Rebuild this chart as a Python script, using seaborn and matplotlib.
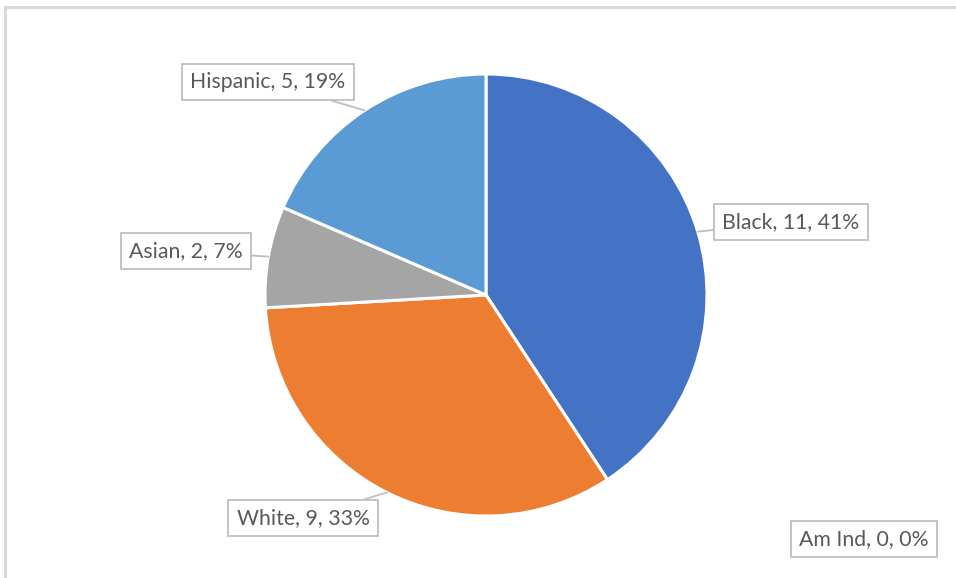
import numpy as np
import matplotlib
matplotlib.use("Agg")
import matplotlib.pyplot as plt
import seaborn as sns

sns.set_theme(style="white")
plt.rcParams["font.family"] = ["Lato", "DejaVu Sans"]

# Enrollment by race/ethnicity
categories = ["Black", "White", "Asian", "Hispanic", "Am Ind"]
counts = [11, 9, 2, 5, 0]
colors = ["#4472C4", "#ED7D31", "#A5A5A5", "#5B9BD5", "#FFC000"]

W, H = 956, 578
fig = plt.figure(figsize=(W / 100, H / 100), dpi=100)
ax = fig.add_axes([0, 0, 1, 1])
ax.set_xlim(0, W)
ax.set_ylim(0, H)
ax.set_aspect("equal")
ax.axis("off")

# chart frame (top and left edges visible)
ax.plot([5.5, 5.5, W], [0, H - 6.5, H - 6.5], color="#d9d9d9", lw=2.2,
        solid_capstyle="butt", solid_joinstyle="miter")

cx, cy, r = 486, H - 295, 221
total = sum(counts)
drawn = [(c, v, col) for c, v, col in zip(categories, counts, colors) if v > 0]
wedges, _ = ax.pie([v for _, v, _ in drawn], colors=[col for _, _, col in drawn],
                   startangle=90, counterclock=False, center=(cx, cy), radius=r,
                   wedgeprops=dict(edgecolor="white", linewidth=2.2))
ax.set_xlim(0, W)
ax.set_ylim(0, H)

# label box centres (pixels from the top-left)
label_pos = {
    "Black": (791, 222),
    "White": (303, 518),
    "Asian": (186, 251),
    "Hispanic": (268, 82),
    "Am Ind": (864, 539),
}

box = dict(boxstyle="square,pad=0.38", fc="white", ec="#bfbfbf", lw=1.3)
fs = 15.3
angle = 90.0
mids = {}
for c, v in zip(categories, counts):
    span = 360.0 * v / total
    mids[c] = angle - span / 2
    angle -= span

for c, v in zip(categories, counts):
    pct = round(100 * v / total)
    text = f"{c}, {v}, {pct}%"
    lx, ly = label_pos[c]
    if v > 0:
        th = np.deg2rad(mids[c])
        ex, ey = cx + r * np.cos(th), cy + r * np.sin(th)
        ax.annotate(text, xy=(ex, ey), xytext=(lx, H - ly),
                    ha="center", va="center", fontsize=fs, color="#595959",
                    bbox=box,
                    arrowprops=dict(arrowstyle="-", color="#bfbfbf", lw=1.3,
                                    shrinkA=0, shrinkB=0))
    else:
        ax.text(lx, H - ly, text, ha="center", va="center", fontsize=fs,
                color="#595959", bbox=box)

fig.savefig("out.png", dpi=100)
